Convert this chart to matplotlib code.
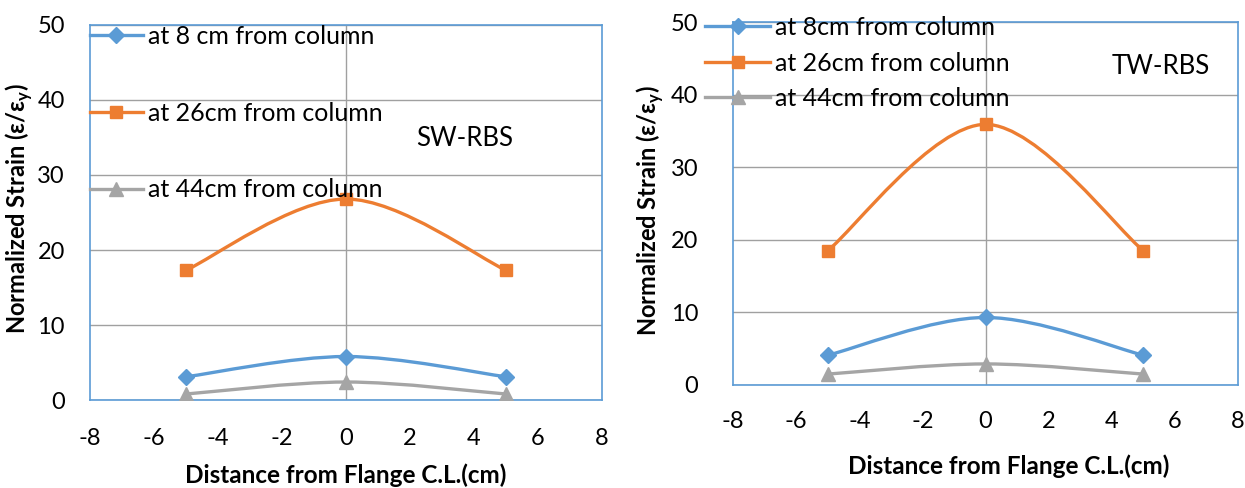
import matplotlib
matplotlib.use("Agg")
import matplotlib.pyplot as plt
from matplotlib.path import Path
from matplotlib.patches import PathPatch
from matplotlib.lines import Line2D

plt.rcParams['font.family'] = ['Lato', 'DejaVu Sans']
plt.rcParams['mathtext.fontset'] = 'custom'
plt.rcParams['mathtext.rm'] = 'Lato'
plt.rcParams['mathtext.bf'] = 'Lato:bold'
plt.rcParams['axes.unicode_minus'] = False

# data
distance = [-5, 0, 5]

sw_8cm = [3.1, 5.8, 3.1]
sw_26cm = [17.3, 26.8, 17.3]
sw_44cm = [0.8, 2.4, 0.8]

tw_8cm = [4.1, 9.3, 4.1]
tw_26cm = [18.5, 35.9, 18.5]
tw_44cm = [1.5, 2.9, 1.5]

sw_labels = ['at 8 cm from column', 'at 26cm from column', 'at 44cm from column']
tw_labels = ['at 8cm from column', 'at 26cm from column', 'at 44cm from column']

colors = ['#5B9BD5', '#ED7D31', '#A5A5A5']
markers = ['D', 's', '^']
msizes = [8, 9, 10]
frame_col = '#5B9BD5'
grid_col = '#A0A0A0'


def smooth_path(xs, ys):
    # Excel-like smoothed line (cubic bezier through the points)
    pts = list(zip(xs, ys))
    verts = [pts[0]]
    codes = [Path.MOVETO]
    for i in range(len(pts) - 1):
        p0 = pts[i - 1] if i > 0 else pts[i]
        p1 = pts[i]
        p2 = pts[i + 1]
        p3 = pts[i + 2] if i + 2 < len(pts) else p2
        c1 = (p1[0] + (p2[0] - p0[0]) / 6, p1[1] + (p2[1] - p0[1]) / 6)
        c2 = (p2[0] - (p3[0] - p1[0]) / 6, p2[1] - (p3[1] - p1[1]) / 6)
        verts += [c1, c2, p2]
        codes += [Path.CURVE4] * 3
    return Path(verts, codes)


def draw_panel(ax, series, labels, tag, tag_xy, leg_anchor, leg_spacing, handlelen,
               xpad, ypad, xlab_xy, ylab_xy):
    ax.set_xlim(-8, 8)
    ax.set_ylim(0, 50)
    ax.set_xticks(range(-8, 9, 2))
    ax.set_yticks(range(0, 51, 10))
    ax.yaxis.grid(True, color=grid_col, lw=1)
    ax.axvline(0, color=grid_col, lw=1)
    for s in ax.spines.values():
        s.set_color(frame_col)
        s.set_linewidth(1.2)
    ax.tick_params(length=0, labelsize=17)
    ax.tick_params(axis='x', pad=xpad)
    ax.tick_params(axis='y', pad=ypad)

    handles = []
    for ys, c, m, ms, lab in zip(series, colors, markers, msizes, labels):
        ax.add_patch(PathPatch(smooth_path(distance, ys), fc='none', ec=c, lw=2.4, zorder=3))
        ax.plot(distance, ys, ls='none', marker=m, ms=ms, color=c, zorder=4)
        handles.append(Line2D([], [], color=c, lw=2.4, marker=m, ms=ms, label=lab))

    leg = ax.legend(handles=handles, loc='upper left', bbox_to_anchor=leg_anchor,
                    frameon=False, fontsize=18, labelspacing=leg_spacing,
                    handlelength=handlelen, handletextpad=0.2, borderaxespad=0,
                    borderpad=0)
    leg.set_zorder(5)
    ax.text(tag_xy[0], tag_xy[1], tag, fontsize=18.5, ha='center', va='center')
    ax.set_xlabel('Distance from Flange C.L.(cm)', fontsize=17.5, fontweight='bold')
    ax.xaxis.set_label_coords(*xlab_xy)
    ax.set_ylabel('Normalized Strain (ε/ε$_\\mathbf{y}$)', fontsize=17, fontweight='bold')
    ax.yaxis.set_label_coords(*ylab_xy)


fig = plt.figure(figsize=(12.45, 4.88), dpi=100)
ax1 = fig.add_axes([0.0723, 0.1803, 0.4112, 0.7685])
ax2 = fig.add_axes([0.5888, 0.2111, 0.4056, 0.7438])

draw_panel(ax1, [sw_8cm, sw_26cm, sw_44cm], sw_labels, 'SW-RBS', (3.7, 34.9),
           (0.0, 1.0), 2.15, 2.1, 20, 18, (0.5, -0.168), (-0.108, 0.51))
draw_panel(ax2, [tw_8cm, tw_26cm, tw_44cm], tw_labels, 'TW-RBS', (5.55, 43.9),
           (-0.055, 1.016), 0.5, 2.6, 19, 25, (0.545, -0.19), (-0.132, 0.48))

fig.savefig('out.png', dpi=100)
